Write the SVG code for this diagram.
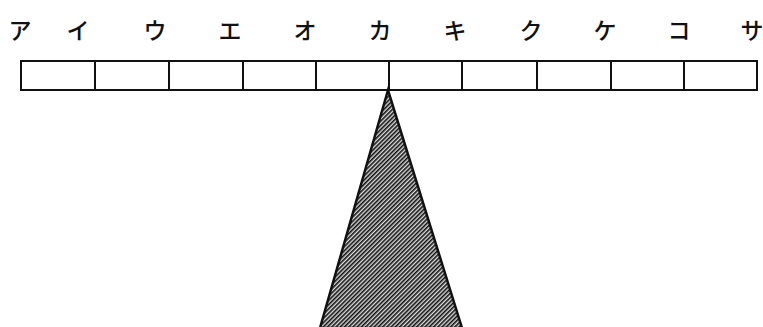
<svg xmlns="http://www.w3.org/2000/svg" width="763" height="327" viewBox="0 0 763 327">
<style>
.lbl{font-family:"Noto Sans CJK JP","Noto Sans CJK SC",sans-serif;font-size:23px;font-weight:500;fill:#111;text-anchor:middle}
.cell{fill:#fff;stroke:#111;stroke-width:2}
</style>
<defs>
<pattern id="hatch" width="3" height="3" patternUnits="userSpaceOnUse" patternTransform="rotate(45)">
<rect width="3" height="3" fill="#ddd"/>
<rect width="1.6" height="3" fill="#111"/>
</pattern>
</defs>
<rect width="763" height="327" fill="#fff"/>
<g id="labels">
<text class="lbl" x="20" y="39">ア</text>
<text class="lbl" x="78" y="39">イ</text>
<text class="lbl" x="155" y="39">ウ</text>
<text class="lbl" x="230" y="39">エ</text>
<text class="lbl" x="305" y="39">オ</text>
<text class="lbl" x="380" y="39">カ</text>
<text class="lbl" x="455" y="39">キ</text>
<text class="lbl" x="531" y="39">ク</text>
<text class="lbl" x="605" y="39">ケ</text>
<text class="lbl" x="679" y="39">コ</text>
<text class="lbl" x="752" y="39">サ</text>
</g>
<g id="bar">
<rect class="cell" x="21" y="61" width="74" height="29"/>
<rect class="cell" x="95" y="61" width="74" height="29"/>
<rect class="cell" x="169" y="61" width="74" height="29"/>
<rect class="cell" x="243" y="61" width="73" height="29"/>
<rect class="cell" x="316" y="61" width="73" height="29"/>
<rect class="cell" x="389" y="61" width="73" height="29"/>
<rect class="cell" x="462" y="61" width="75" height="29"/>
<rect class="cell" x="537" y="61" width="74" height="29"/>
<rect class="cell" x="611" y="61" width="73" height="29"/>
<rect class="cell" x="684" y="61" width="73" height="29"/>
</g>
<g id="fulcrum">
<polygon points="388,90 320,328 462,328" fill="url(#hatch)" stroke="#111" stroke-width="2.5" stroke-linejoin="miter"/>
</g>
</svg>
